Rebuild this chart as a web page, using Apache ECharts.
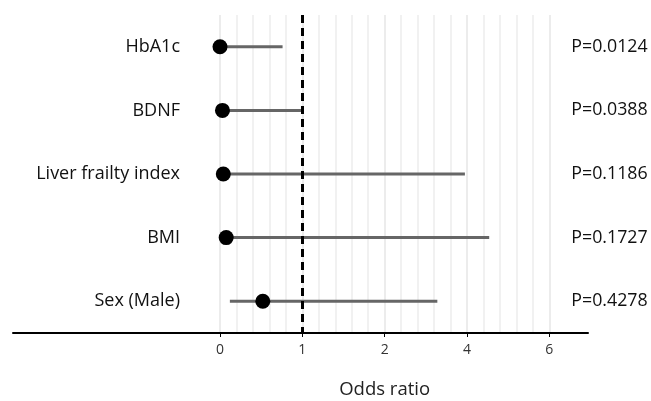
<!DOCTYPE html>
<html>
<head>
<meta charset="utf-8">
<script src="https://cdn.jsdelivr.net/npm/echarts@6/dist/echarts.min.js"></script>
<style>html,body{margin:0;padding:0;background:#fff}#c{width:651px;height:401px}</style>
</head>
<body>
<div id="c"></div>
<script>
var categories = ['HbA1c', 'BDNF', 'Liver frailty index', 'BMI', 'Sex (Male)'];
var pLabels = ['P=0.0124', 'P=0.0388', 'P=0.1186', 'P=0.1727', 'P=0.4278'];
var oddsRatio = [0.00, 0.03, 0.04, 0.075, 0.52];
var ciLower = [0.00, 0.03, 0.04, 0.075, 0.12];
var ciUpper = [0.76, 1.00, 3.95, 4.54, 3.28];
var tickValues = [0, 1, 2, 4, 6];
var refLine = 1;

// axis scale: linear up to 2, half spacing per unit beyond 2
function toDisplay(v) { return v <= 2 ? v : 2 + (v - 2) / 2; }

var FONT = '"Open Sans"';
var chart = echarts.init(document.getElementById('c'));

var scatterData = oddsRatio.map(function (v, i) { return [toDisplay(v), i]; });
var barData = ciLower.map(function (lo, i) { return [toDisplay(lo), toDisplay(ciUpper[i]), i]; });

chart.setOption({
  animation: false,
  backgroundColor: '#fff',
  grid: [
    { left: 220, right: 101.7, top: 15, bottom: 68, containLabel: false, outerBoundsMode: 'none' },
    { left: 13, right: 63, top: 15, bottom: 68, containLabel: false, outerBoundsMode: 'none' }
  ],
  xAxis: [{
    gridIndex: 0, type: 'value', min: 0, max: toDisplay(tickValues[tickValues.length - 1]), interval: 1,
    axisLine: { show: false },
    axisTick: { show: true, length: 4, lineStyle: { color: '#000', width: 1 } },
    axisLabel: {
      fontFamily: FONT, fontSize: 14, color: '#333', margin: 10,
      formatter: function (v) { var idx = tickValues.findIndex(function (t) { return Math.abs(toDisplay(t) - v) < 1e-6; }); return idx >= 0 ? String(tickValues[idx]) : ''; }
    },
    splitLine: { show: true, lineStyle: { color: '#e6e6e6', width: 1.5 } },
    minorTick: { show: false, splitNumber: 5 },
    minorSplitLine: { show: true, lineStyle: { color: '#ededed', width: 1.5 } },
    name: 'Odds ratio', nameLocation: 'middle', nameGap: 47,
    nameTextStyle: { fontFamily: FONT, fontSize: 18.5, color: '#222' }
  }, {
    gridIndex: 1, type: 'value', min: 0, max: 1,
    axisLine: { show: true, lineStyle: { color: '#000', width: 2 } },
    axisTick: { show: false }, axisLabel: { show: false }, splitLine: { show: false }
  }],
  yAxis: [{
    gridIndex: 0, type: 'category', data: categories, inverse: true,
    axisLine: { show: false }, axisTick: { show: false }, splitLine: { show: false },
    axisLabel: { fontFamily: FONT, fontSize: 18, color: '#111', margin: 40 }
  }, {
    gridIndex: 0, type: 'category', data: pLabels, inverse: true, position: 'right',
    axisLine: { show: false }, axisTick: { show: false }, splitLine: { show: false },
    axisLabel: { fontFamily: FONT, fontSize: 17.8, color: '#111', margin: 22 }
  }, {
    gridIndex: 1, type: 'value', show: false
  }],
  series: [{
    type: 'custom', xAxisIndex: 0, yAxisIndex: 0,
    data: barData,
    renderItem: function (params, api) {
      var a = api.coord([api.value(0), api.value(2)]);
      var b = api.coord([api.value(1), api.value(2)]);
      return { type: 'line', shape: { x1: a[0], y1: a[1], x2: b[0], y2: b[1] },
        style: { stroke: '#666', lineWidth: 3 } };
    },
    z: 2
  }, {
    type: 'scatter', xAxisIndex: 0, yAxisIndex: 0, data: scatterData,
    symbol: 'circle', symbolSize: 15, clip: false,
    itemStyle: { color: '#000', opacity: 1 }, z: 4,
    markLine: {
      silent: true, symbol: 'none', label: { show: false },
      lineStyle: { color: '#000', type: [8, 5], width: 3 },
      data: [{ xAxis: toDisplay(refLine) }]
    }
  }]
});
</script>
</body>
</html>
